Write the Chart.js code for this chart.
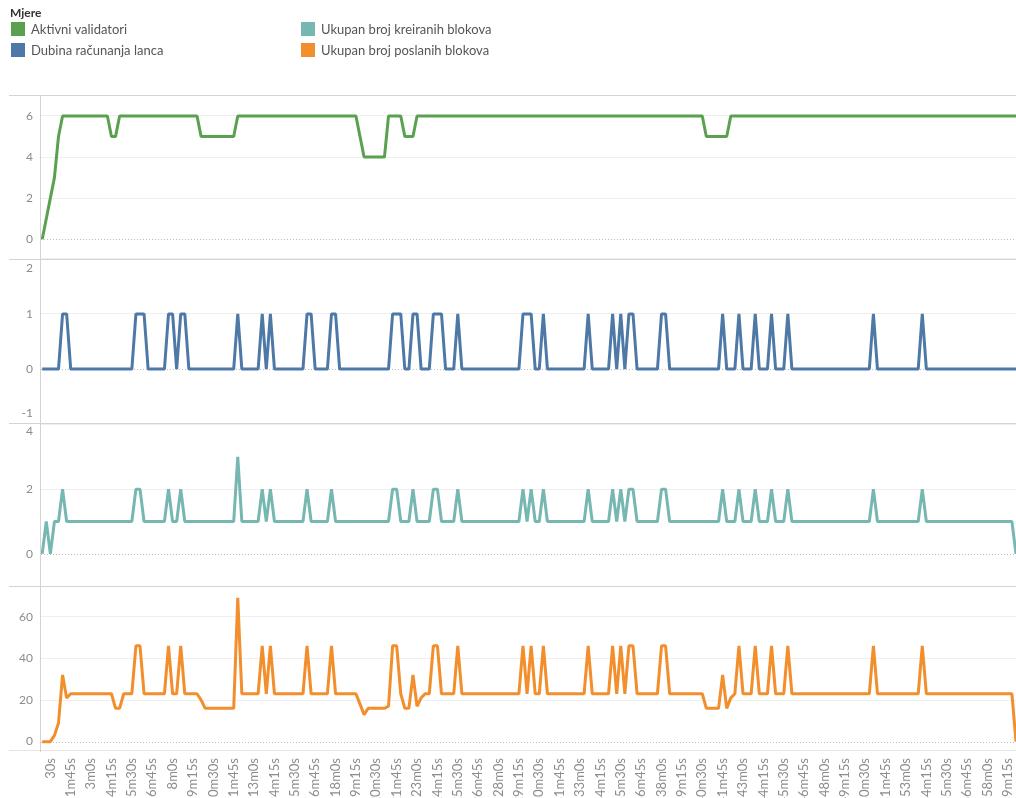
<!DOCTYPE html>
<html>
<head>
<meta charset="utf-8">
<script src="https://cdn.jsdelivr.net/npm/chart.js@4"></script>
<style>
  html, body { margin: 0; padding: 0; background: #fff; }
  body { width: 1016px; height: 798px; position: relative; overflow: hidden; font-family: Lato, "Open Sans", sans-serif; }
  #c { position: absolute; left: 0; top: 0; }
  .legend-title { position: absolute; left: 10px; top: 7px; font-size: 12px; line-height: 12px; font-weight: 700; color: #333; }
  .item { position: absolute; font-size: 13px; line-height: 13px; color: #555; white-space: nowrap; }
  .item i { position: absolute; left: -20px; top: -1px; width: 14px; height: 14px; }
</style>
</head>
<body>
<canvas id="c" width="1016" height="798"></canvas>
<div class="legend-title">Mjere</div>
<div class="item" style="left:31px; top:23px;"><i style="background:#59a14f"></i>Aktivni validatori</div>
<div class="item" style="left:31px; top:44px;"><i style="background:#4e79a7"></i>Dubina računanja lanca</div>
<div class="item" style="left:321px; top:23px;"><i style="background:#76b7b2"></i>Ukupan broj kreiranih blokova</div>
<div class="item" style="left:321px; top:44px;"><i style="background:#f28e2b"></i>Ukupan broj poslanih blokova</div>
<script>
// vremenske oznake, svakih 15 s
const times = [];
for (let i = 0; i < 240; i++) {
  const t = i * 15, m = Math.floor(t / 60), s = t % 60;
  times.push(m > 0 ? m + "m" + s + "s" : s + "s");
}
// prikazane oznake na x osi (svaka peta)
const xTicks = [];
for (let i = 2; i < 240; i += 5) xTicks.push(i);

const aktivni = [
  0,1,2,3,5,6,6,6,6,6, 6,6,6,6,6,6,6,5,5,6,
  6,6,6,6,6,6,6,6,6,6, 6,6,6,6,6,6,6,6,6,5,
  5,5,5,5,5,5,5,5,6,6, 6,6,6,6,6,6,6,6,6,6,
  6,6,6,6,6,6,6,6,6,6, 6,6,6,6,6,6,6,6,5,4,
  4,4,4,4,4,6,6,6,6,5, 5,5,6,6,6,6,6,6,6,6,
  6,6,6,6,6,6,6,6,6,6, 6,6,6,6,6,6,6,6,6,6,
  6,6,6,6,6,6,6,6,6,6, 6,6,6,6,6,6,6,6,6,6,
  6,6,6,6,6,6,6,6,6,6, 6,6,6,6,6,6,6,6,6,6,
  6,6,6,5,5,5,5,5,5,6, 6,6,6,6,6,6,6,6,6,6,
  6,6,6,6,6,6,6,6,6,6, 6,6,6,6,6,6,6,6,6,6,
  6,6,6,6,6,6,6,6,6,6, 6,6,6,6,6,6,6,6,6,6,
  6,6,6,6,6,6,6,6,6,6, 6,6,6,6,6,6,6,6,6,6
];

const dubina = [
  0,0,0,0,0,1,1,0,0,0, 0,0,0,0,0,0,0,0,0,0,
  0,0,0,1,1,1,0,0,0,0, 0,1,1,0,1,1,0,0,0,0,
  0,0,0,0,0,0,0,0,1,0, 0,0,0,0,1,0,1,0,0,0,
  0,0,0,0,0,1,1,0,0,0, 0,1,1,0,0,0,0,0,0,0,
  0,0,0,0,0,0,1,1,1,0, 0,1,1,0,0,0,1,1,1,0,
  0,0,1,0,0,0,0,0,0,0, 0,0,0,0,0,0,0,0,1,1,
  1,0,0,1,0,0,0,0,0,0, 0,0,0,0,1,0,0,0,0,0,
  1,0,1,0,1,1,0,0,0,0, 0,0,1,1,0,0,0,0,0,0,
  0,0,0,0,0,0,0,1,0,0, 0,1,0,0,0,1,0,0,0,1,
  0,0,0,1,0,0,0,0,0,0, 0,0,0,0,0,0,0,0,0,0,
  0,0,0,0,1,0,0,0,0,0, 0,0,0,0,0,0,1,0,0,0,
  0,0,0,0,0,0,0,0,0,0, 0,0,0,0,0,0,0,0,0,0
];

const kreirani = [
  0,1,0,1,1,2,1,1,1,1, 1,1,1,1,1,1,1,1,1,1,
  1,1,1,2,2,1,1,1,1,1, 1,2,1,1,2,1,1,1,1,1,
  1,1,1,1,1,1,1,1,3,1, 1,1,1,1,2,1,2,1,1,1,
  1,1,1,1,1,2,1,1,1,1, 1,2,1,1,1,1,1,1,1,1,
  1,1,1,1,1,1,2,2,1,1, 1,2,1,1,1,1,2,2,1,1,
  1,1,2,1,1,1,1,1,1,1, 1,1,1,1,1,1,1,1,2,1,
  2,1,1,2,1,1,1,1,1,1, 1,1,1,1,2,1,1,1,1,1,
  2,1,2,1,2,2,1,1,1,1, 1,1,2,2,1,1,1,1,1,1,
  1,1,1,1,1,1,1,2,1,1, 1,2,1,1,1,2,1,1,1,2,
  1,1,1,2,1,1,1,1,1,1, 1,1,1,1,1,1,1,1,1,1,
  1,1,1,1,2,1,1,1,1,1, 1,1,1,1,1,1,2,1,1,1,
  1,1,1,1,1,1,1,1,1,1, 1,1,1,1,1,1,1,1,1,0
];

const poslani = [
  0,0,0,3,9,32,21,23,23,23, 23,23,23,23,23,23,23,23,16,16,
  23,23,23,46,46,23,23,23,23,23, 23,46,23,23,46,23,23,23,23,20,
  16,16,16,16,16,16,16,16,69,23, 23,23,23,23,46,23,46,23,23,23,
  23,23,23,23,23,46,23,23,23,23, 23,46,23,23,23,23,23,23,18,13,
  16,16,16,16,16,17,46,46,23,16, 16,32,17,21,23,23,46,46,23,23,
  23,23,46,23,23,23,23,23,23,23, 23,23,23,23,23,23,23,23,46,23,
  46,23,23,46,23,23,23,23,23,23, 23,23,23,23,46,23,23,23,23,23,
  46,23,46,23,46,46,23,23,23,23, 23,23,46,46,23,23,23,23,23,23,
  23,23,23,16,16,16,16,32,16,21, 23,46,23,23,23,46,23,23,23,46,
  23,23,23,46,23,23,23,23,23,23, 23,23,23,23,23,23,23,23,23,23,
  23,23,23,23,46,23,23,23,23,23, 23,23,23,23,23,23,46,23,23,23,
  23,23,23,23,23,23,23,23,23,23, 23,23,23,23,23,23,23,23,23,0
];

// oznake na y osima po panelu
const ticksA = [0, 2, 4, 6];
const ticksD = [-1, 0, 1, 2];
const ticksK = [0, 2, 4];
const ticksP = [0, 20, 40, 60];

const toXY = arr => arr.map((v, i) => ({ x: i, y: v }));

function yScale(min, max, ticks, weight) {
  return {
    type: "linear",
    position: "left",
    stack: "mjere",
    stackWeight: 1,
    weight: weight,
    min: min,
    max: max,
    afterBuildTicks: s => { s.ticks = ticks.map(v => ({ value: v })); },
    afterFit: s => { s.width = 40; },
    ticks: { display: false },
    grid: {
      drawTicks: false,
      color: c => (c.tick && c.tick.value === 0) ? "rgba(0,0,0,0)" : "#efefef"
    },
    border: { display: false }
  };
}

const yIds = ["yA", "yD", "yK", "yP"];
const yTicks = { yA: ticksA, yD: ticksD, yK: ticksK, yP: ticksP };

const panelLines = {
  id: "panelLines",
  beforeDatasetsDraw(chart) {
    const ctx = chart.ctx, area = chart.chartArea;
    ctx.save();
    ctx.strokeStyle = "#bdbdbd";
    ctx.lineWidth = 1;
    ctx.setLineDash([1, 2]);
    yIds.forEach(id => {
      const y = Math.round(chart.scales[id].getPixelForValue(0)) + 0.5;
      ctx.beginPath();
      ctx.moveTo(area.left + 1, y);
      ctx.lineTo(area.right, y);
      ctx.stroke();
    });
    ctx.restore();
  },
  afterDraw(chart) {
    const ctx = chart.ctx, area = chart.chartArea;
    ctx.save();
    ctx.strokeStyle = "#d3d3d3";
    ctx.lineWidth = 1;
    yIds.forEach(id => {
      const y = Math.round(chart.scales[id].top) + 0.5;
      ctx.beginPath();
      ctx.moveTo(9, y);
      ctx.lineTo(area.right, y);
      ctx.stroke();
    });
    ctx.strokeStyle = "#e4e4e4";
    const yb = Math.round(area.bottom) + 0.5;
    ctx.beginPath();
    ctx.moveTo(9, yb);
    ctx.lineTo(area.right, yb);
    ctx.stroke();
    ctx.strokeStyle = "#d3d3d3";
    ctx.beginPath();
    ctx.moveTo(40.5, area.top);
    ctx.lineTo(40.5, area.bottom + 2);
    ctx.stroke();

    // oznake y osi, rubne pomaknute unutar panela
    ctx.fillStyle = "#8c8c8c";
    ctx.font = "12px Lato";
    ctx.textAlign = "right";
    ctx.textBaseline = "middle";
    yIds.forEach(id => {
      const s = chart.scales[id];
      yTicks[id].forEach(v => {
        let y = s.getPixelForValue(v);
        y = Math.max(y, s.top + 9);
        y = Math.min(y, s.bottom - 9);
        ctx.fillText(String(v), 33, y);
      });
    });
    ctx.restore();
  }
};

Chart.defaults.font.family = "Lato";

new Chart(document.getElementById("c"), {
  type: "line",
  data: {
    datasets: [
      { label: "Aktivni validatori", data: toXY(aktivni), yAxisID: "yA", borderColor: "#59a14f" },
      { label: "Dubina računanja lanca", data: toXY(dubina), yAxisID: "yD", borderColor: "#4e79a7" },
      { label: "Ukupan broj kreiranih blokova", data: toXY(kreirani), yAxisID: "yK", borderColor: "#76b7b2" },
      { label: "Ukupan broj poslanih blokova", data: toXY(poslani), yAxisID: "yP", borderColor: "#f28e2b" }
    ]
  },
  options: {
    responsive: false,
    animation: false,
    layout: { padding: { top: 95, left: 0, right: 0, bottom: 0 } },
    elements: {
      line: { borderWidth: 3, tension: 0, fill: false, borderJoinStyle: "bevel" },
      point: { radius: 0, hoverRadius: 0 }
    },
    plugins: { legend: { display: false }, tooltip: { enabled: false } },
    scales: {
      x: {
        type: "linear",
        min: -0.54,
        max: 239,
        afterBuildTicks: s => { s.ticks = xTicks.map(v => ({ value: v })); },
        afterFit: s => { s.height = 48; s.paddingLeft = 0; s.paddingRight = 0; },
        ticks: {
          autoSkip: false,
          minRotation: 90,
          maxRotation: 90,
          padding: 8,
          color: "#8c8c8c",
          font: { size: 13 },
          callback: v => times[v]
        },
        grid: { display: false, drawTicks: false },
        border: { display: false }
      },
      yA: yScale(-0.95, 7.02, ticksA, 4),
      yD: yScale(-0.97, 2.0, ticksD, 3),
      yK: yScale(-1.0, 4.06, ticksK, 2),
      yP: yScale(-4.0, 74.6, ticksP, 1)
    }
  },
  plugins: [panelLines]
});
</script>
</body>
</html>
